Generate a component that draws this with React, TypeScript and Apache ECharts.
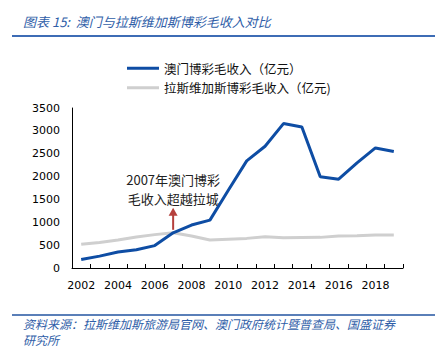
import React, { useEffect, useRef } from "react";
import * as echarts from "echarts";

const years = ["2002","2003","2004","2005","2006","2007","2008","2009","2010","2011","2012","2013","2014","2015","2016","2017","2018","2019"];
const macau = [185, 260, 350, 400, 490, 770, 940, 1048, 1700, 2343, 2664, 3159, 3085, 1994, 1943, 2300, 2627, 2548];
const lasVegas = [520, 560, 611, 680, 730, 770, 700, 611, 630, 648, 683, 660, 665, 670, 699, 705, 720, 720];
const yTicks = [0, 500, 1000, 1500, 2000, 2500, 3000, 3500];

const seriesNames = ["澳门博彩毛收入（亿元）", "拉斯维加斯博彩毛收入（亿元)"];
const title = "图表 15:  澳门与拉斯维加斯博彩毛收入对比";
const sourceLines = ["资料来源：拉斯维加斯旅游局官网、澳门政府统计暨普查局、国盛证券", "研究所"];
const annoLines = ["2007年澳门博彩", "毛收入超越拉城"];
const annoYear = "2007";

const BLUE = "#0E4DA4";
const GRAY = "#CFCFCF";
const HEAD = "#2F5EA8";

export default function App() {
  const ref = useRef<HTMLDivElement>(null);
  useEffect(() => {
    if (!ref.current) return;
    const chart = echarts.init(ref.current, null, { renderer: "svg" });
    const cjk = "'Noto Sans CJK SC', sans-serif";
    const idx = years.indexOf(annoYear);
    const srcFont = "italic 12px 'Noto Sans CJK SC'";
    const staticGraphics = [
      { type: "text", left: 23, top: 15, style: { text: title, font: "italic 13px 'Noto Sans CJK SC'", fill: HEAD } },
      { type: "rect", shape: { x: 12, y: 35, width: 423, height: 2 }, style: { fill: "#3D6CB5" } },
      { type: "rect", shape: { x: 12, y: 314, width: 423, height: 2 }, style: { fill: "#5A7FB8" } },
      { type: "text", x: 23, y: 323.5, style: { text: sourceLines[0], font: srcFont, fill: HEAD, verticalAlign: "middle" } },
      { type: "text", x: 23, y: 339.5, style: { text: sourceLines[1], font: srcFont, fill: HEAD, verticalAlign: "middle" } },
    ];
    chart.setOption({
      animation: false,
      backgroundColor: "#fff",
      grid: { left: 72, right: 43, top: 108, bottom: 80, containLabel: false },
      legend: {
        orient: "vertical",
        left: 122,
        top: 57,
        itemWidth: 32,
        itemHeight: 3,
        itemGap: 7,
        icon: "rect",
        selectedMode: false,
        textStyle: { fontFamily: cjk, fontSize: 12.5, color: "#111" },
        data: seriesNames,
      },
      xAxis: {
        type: "category",
        data: years,
        boundaryGap: true,
        axisLine: { lineStyle: { color: "#000", width: 1 } },
        axisTick: { show: true, inside: true, length: 4, interval: 0, lineStyle: { color: "#000" } },
        axisLabel: { interval: 1, fontFamily: "DejaVu Sans", fontSize: 11, color: "#000", margin: 12 },
        splitLine: { show: false },
      },
      yAxis: {
        type: "value",
        min: yTicks[0],
        max: yTicks[yTicks.length - 1],
        interval: 500,
        axisLine: { show: true, lineStyle: { color: "#000", width: 1 } },
        axisTick: { show: false },
        axisLabel: { fontFamily: "DejaVu Sans", fontSize: 11, color: "#000", margin: 12, formatter: (v: number) => String(v) },
        splitLine: { show: false },
      },
      series: [
        {
          name: seriesNames[0],
          type: "line",
          data: macau,
          symbol: "none",
          itemStyle: { color: BLUE },
          lineStyle: { color: BLUE, width: 3 },
          z: 3,
        },
        {
          name: seriesNames[1],
          type: "line",
          data: lasVegas,
          symbol: "none",
          itemStyle: { color: GRAY },
          lineStyle: { color: GRAY, width: 3 },
          z: 2,
        },
      ],
      graphic: staticGraphics,
    });
    const p = chart.convertToPixel({ gridIndex: 0 }, [idx, lasVegas[idx]]) as number[];
    const ax = p[0];
    const ay = p[1];
    const annoFont = "13px 'Noto Sans CJK SC'";
    chart.setOption({
      graphic: [
        ...staticGraphics,
        { type: "line", shape: { x1: ax, y1: ay - 3, x2: ax, y2: ay - 18 }, style: { stroke: "#B5403D", lineWidth: 2 } },
        { type: "polygon", shape: { points: [[ax - 4.5, ay - 17], [ax + 4.5, ay - 17], [ax, ay - 25]] }, style: { fill: "#B5403D" } },
        { type: "text", x: ax, y: ay - 53, style: { text: annoLines[0], font: annoFont, fill: "#222", align: "center", verticalAlign: "middle" } },
        { type: "text", x: ax, y: ay - 34, style: { text: annoLines[1], font: annoFont, fill: "#222", align: "center", verticalAlign: "middle" } },
      ],
    }, { replaceMerge: ["graphic"] });
    return () => chart.dispose();
  }, []);
  return <div ref={ref} style={{ width: 446, height: 348, position: "absolute", left: 0, top: 0 }} />;
}
